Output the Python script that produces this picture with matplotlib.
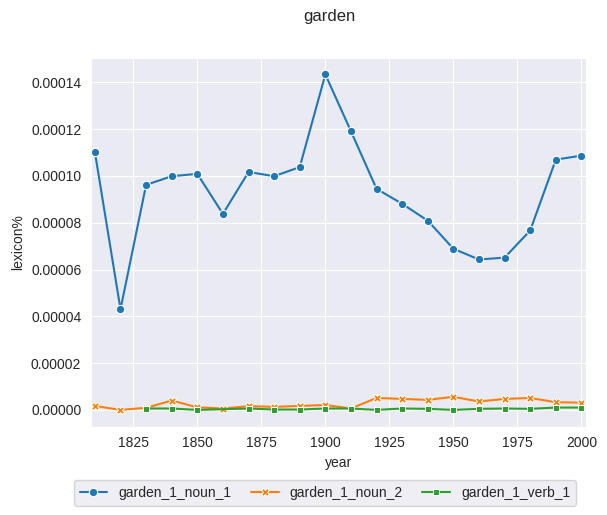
import numpy as np
import pandas as pd
import seaborn as sns
import matplotlib
matplotlib.use("Agg")
from matplotlib import pyplot as plt

years = list(range(1810, 2001, 10))
series_names = ["garden_1_noun_1", "garden_1_noun_2", "garden_1_verb_1"]

noun_1 = [1.102e-4, 0.430e-4, 0.962e-4, 0.999e-4, 1.009e-4, 0.838e-4, 1.017e-4,
          0.999e-4, 1.038e-4, 1.434e-4, 1.191e-4, 0.945e-4, 0.881e-4, 0.809e-4,
          0.689e-4, 0.643e-4, 0.651e-4, 0.767e-4, 1.070e-4, 1.087e-4]
noun_2 = [1.7e-6, 0.0, 0.9e-6, 4.0e-6, 1.1e-6, 0.6e-6, 1.6e-6, 1.3e-6, 1.7e-6,
          2.1e-6, 0.6e-6, 5.1e-6, 4.7e-6, 4.3e-6, 5.6e-6, 3.6e-6, 4.7e-6, 5.1e-6,
          3.3e-6, 3.1e-6]
verb_1 = [np.nan, np.nan, 0.6e-6, 0.6e-6, 0.0, np.nan, 0.6e-6, 0.15e-6, 0.15e-6,
          0.6e-6, 0.6e-6, 0.0, 0.6e-6, 0.45e-6, 0.0, 0.45e-6, 0.6e-6, 0.45e-6,
          1.0e-6, 1.0e-6]

rows = []
for name, vals in zip(series_names, [noun_1, noun_2, verb_1]):
    for y, v in zip(years, vals):
        if not np.isnan(v):
            rows.append({"year": y, "lexicon%": v, "sense": name})
df = pd.DataFrame(rows)

sns.set_style("darkgrid")
plt.rcParams['font.family'] = ['Liberation Sans', 'DejaVu Sans']

fig = plt.figure(figsize=(6.07, 5.15), dpi=100)
ax = fig.add_axes([0.15, 0.1715, 0.8146, 0.7165])
sns.lineplot(data=df, x="year", y="lexicon%", hue="sense", style="sense",
             markers=True, dashes=False, palette="tab10", ax=ax)
ax.set_xlim(1808.5, 2001.6)
ax.set_xticks([1825, 1850, 1875, 1900, 1925, 1950, 1975, 2000])

handles, labels = ax.get_legend_handles_labels()
ax.get_legend().remove()
fig.legend(handles, labels, loc="center", ncol=3,
           bbox_to_anchor=(325 / 607, 1 - 493 / 515), columnspacing=1.4)
fig.text(329 / 607, 1 - 17 / 515, "garden", ha="center", va="center", fontsize=12)

fig.savefig("out.png", dpi=100)
